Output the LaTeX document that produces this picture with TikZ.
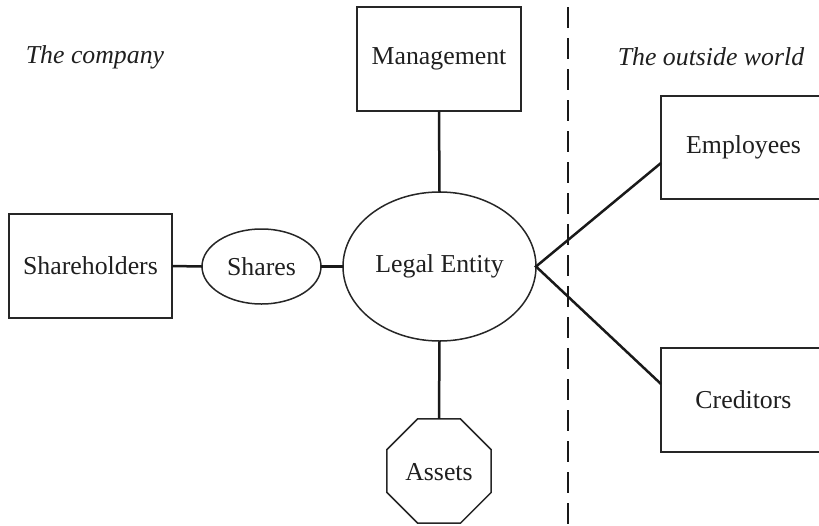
\documentclass[tikz,border=0pt]{standalone}
\usepackage{fontspec}
\setmainfont{Liberation Serif}
\usetikzlibrary{shapes.geometric,calc}
\begin{document}
\begin{tikzpicture}[x=1pt,y=-1pt,
  every node/.style={font=\fontsize{25.8}{30}\selectfont, text=black!88},
  boxnode/.style={draw=black!85, line width=1.5pt, rectangle, inner sep=0pt, outer sep=0pt},
  ellnode/.style={draw=black!85, line width=1.5pt, ellipse, inner sep=0pt, outer sep=0pt},
  octnode/.style={draw=black!85, line width=1.5pt, regular polygon, regular polygon sides=8, inner sep=0pt, outer sep=0pt},
  link/.style={draw=black!90, line width=2.5pt},
  divider/.style={draw=black!90, line width=2.5pt, dash pattern=on 21pt off 10pt},
  side/.style={font=\fontsize{25.8}{30}\selectfont\itshape}
]
\useasboundingbox (0,0) rectangle (819,525);
\clip (0,0) rectangle (819,525);

% dashed divider
\coordinate (dtop) at (568,7);
\coordinate (dbot) at (568,530);
\draw[divider] (dtop) -- (dbot);

% labels
\node[side] (company) at (95,57) {The company};
\node[side] (outside) at (711,57) {The outside world};

% nodes
\node[boxnode, minimum width=164pt, minimum height=104pt] (mgmt) at (439,59) {Management};
\node[boxnode, minimum width=163pt, minimum height=104pt] (share) at (90.5,266) {Shareholders};
\node[ellnode, minimum width=119pt, minimum height=75pt] (shares) at (261.5,266.5) {Shares};
\node[ellnode, minimum width=193pt, minimum height=149pt] (legal) at (439.5,266.5) {Legal Entity};
\node[octnode, minimum size=112.6pt] (assets) at (439,471) {};
\node (assetstext) at (439,472) {Assets};
\node[boxnode, minimum width=165pt, minimum height=103pt] (emp) at (743.5,147.5) {Employees};
\node[boxnode, minimum width=165pt, minimum height=104pt] (cred) at (743.5,400) {Creditors};

% connectors
\draw[link] (share.east) -- (shares.west);
\draw[link] (shares.east) -- (legal.west);
\draw[link] (mgmt.south) -- (legal.north);
\draw[link] (legal.south) -- (assets.north);
\draw[link] ([yshift=-15.5pt]emp.west) -- (legal.east) -- ([yshift=16pt]cred.west);
\end{tikzpicture}
\end{document}
